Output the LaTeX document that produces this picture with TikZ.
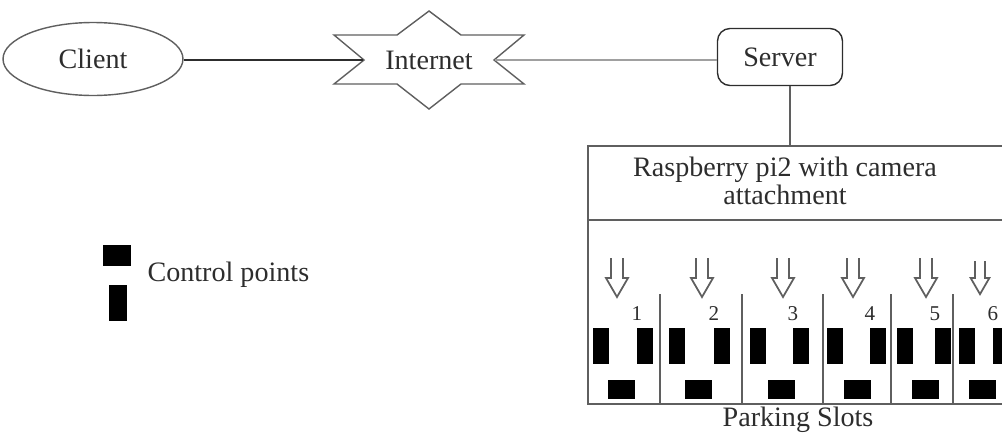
\documentclass[tikz,border=0pt]{standalone}
\usepackage{fontspec}
\setmainfont{Liberation Serif}
\usetikzlibrary{shapes.geometric,calc,positioning}
\definecolor{ink}{RGB}{45,45,45}
\definecolor{wire}{RGB}{95,95,95}
\definecolor{pale}{RGB}{160,160,160}
\tikzset{
  lbl/.style={font=\fontsize{16}{14}\selectfont,text=ink},
  numlbl/.style={font=\fontsize{12}{14}\selectfont,text=ink},
  post/.style={fill=black},
  divider/.style={draw=wire,line width=1pt},
  % hollow camera arrow
  pics/slotarrow/.style={code={
    \draw[wire,line width=1pt,line join=miter]
      (-6,-20) -- (-6,0) -- (-11,0) -- (0,19) -- (11,0) -- (6,0) -- (6,-20);
  }},
}

\begin{document}
\begin{tikzpicture}[x=0.02cm,y=-0.02cm,line width=0.8pt]
  \path[use as bounding box,clip] (0,0) rectangle (1002,433);

  % top row
  \node[lbl,ellipse,draw=wire,minimum width=3.6cm,minimum height=1.46cm] (client) at (93,59) {Client};
  \node[lbl,minimum width=2.6cm,minimum height=1.96cm] (inet) at (429,60) {Internet};
  \draw[wire,shift={(inet.center)}] (0,-49) -- (32,-25) -- (95,-25) -- (65,0) -- (95,24) -- (32,24)
    -- (0,49) -- (-32,24) -- (-95,24) -- (-65,0) -- (-95,-25) -- (-32,-25) -- cycle;
  \node[lbl,draw=ink,rounded corners=0.25cm,minimum width=2.5cm,minimum height=1.14cm] (server) at (780,57) {Server};
  \draw[ink] (client.east |- inet.west) -- (inet.west);
  \draw[pale] (inet.east) -- (inet.east -| server.west);

  % raspberry box
  \node[draw=wire,line width=1pt,minimum width=8.7cm,minimum height=5.16cm,anchor=north west] (pibox) at (587,145) {};
  \coordinate (split) at (0,220);
  \draw[divider] (pibox.west |- split) -- (pibox.east |- split);
  \draw[wire,line width=1pt] ([xshift=0.2cm]server.south) -- ([xshift=0.2cm]server.south |- pibox.north);
  \node[lbl,align=center] (pitext) at (785,181) {Raspberry pi2 with camera\\attachment};

  % parking slots
  \foreach \x in {660,742,823,891,953}
    \draw[divider] (\x,294) -- (\x,403);
  \foreach \l/\r/\b/\n/\a/\s in {593/637/608/1/617/1, 669/714/685/2/702/1, 750/793/768/3/783/1,
      827/870/844/4/853/1, 897/935/912/5/926/1, 959/993/969/6/980/0.85}{
    \fill[post] (\l,328) rectangle ++(16,36);
    \fill[post] (\r,328) rectangle ++(16,36);
    \fill[post] (\b,380) rectangle ++(27,19);
    \node[numlbl] (num\n) at (\r,314) {\n};
    \pic[scale=\s] at (\a,278) {slotarrow};
  }
  \node[lbl] (slotlabel) at (798,420) {Parking Slots};

  % legend
  \fill[post] (103,245) rectangle (131,266);
  \fill[post] (109,285) rectangle (127,321);
  \node[lbl,anchor=west] (ctrl) at (141,275) {Control points};
\end{tikzpicture}
\end{document}
